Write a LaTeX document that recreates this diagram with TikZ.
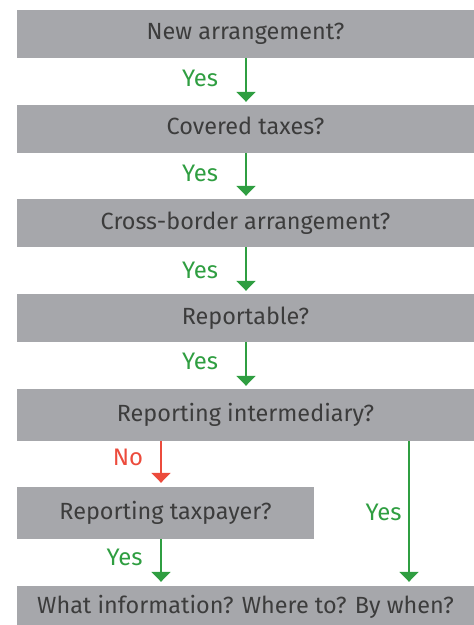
\documentclass[tikz,border=0pt]{standalone}
\usepackage{fontspec}
\setmainfont{Fira Sans}
\usetikzlibrary{arrows.meta}
\definecolor{boxgray}{HTML}{A6A7AB}
\definecolor{txtgray}{HTML}{3C3C3C}
\definecolor{okgreen}{HTML}{2F9E41}
\definecolor{nored}{HTML}{EC4B3C}
\tikzset{
  qbox/.style={fill=boxgray, text=txtgray, inner sep=0pt, minimum height=48bp,
    font=\fontsize{23.5}{26}\selectfont, text height=17bp, text depth=5bp},
  lbl/.style={inner sep=0pt, font=\fontsize{24}{26}\selectfont, text height=16.5bp, text depth=0bp},
  flow/.style={line width=2bp, -{Triangle[width=19bp,length=10bp]}, shorten >=3bp},
}
\begin{document}
\begin{tikzpicture}[x=1bp,y=-1bp]
\useasboundingbox (0,0) rectangle (474,625);
\node[qbox, minimum width=457bp] (b1) at (245.5,34) {New arrangement?};
\node[qbox, minimum width=457bp] (b2) at (245.5,129) {Covered taxes?};
\node[qbox, minimum width=457bp] (b3) at (245.5,223) {Cross-border arrangement?};
\node[qbox, minimum width=457bp] (b4) at (245.5,318) {Reportable?};
\node[qbox, minimum width=457bp, minimum height=52bp] (b5) at (245.5,415) {Reporting intermediary?};
\node[qbox, minimum width=297bp, minimum height=52bp] (b6) at (165.5,513) {Reporting taxpayer?};
\node[qbox, minimum width=457bp, minimum height=42bp] (b7) at (245.5,607) {What information? Where to? By when?};
\coordinate (cx) at (246,0);
\coordinate (lx) at (161,0);
\coordinate (rx) at (409,0);
\draw[flow, okgreen] (b1.south -| cx) -- (b2.north -| cx);
\draw[flow, okgreen] (b2.south -| cx) -- (b3.north -| cx);
\draw[flow, okgreen] (b3.south -| cx) -- (b4.north -| cx);
\draw[flow, okgreen] (b4.south -| cx) -- (b5.north -| cx);
\draw[flow, nored, shorten >=4bp] (b5.south -| lx) -- (b6.north -| lx);
\draw[flow, okgreen, shorten >=4bp] (b6.south -| lx) -- (b7.north -| lx);
\draw[flow, okgreen, shorten >=4bp] (b5.south -| rx) -- (b7.north -| rx);
\node[lbl, text=okgreen] (y1) at (200,78) {Yes};
\node[lbl, text=okgreen] (y2) at (200,173.5) {Yes};
\node[lbl, text=okgreen] (y3) at (200,270) {Yes};
\node[lbl, text=okgreen] (y4) at (200,361.5) {Yes};
\node[lbl, text=nored] (n5) at (128,457.5) {No};
\node[lbl, text=okgreen] (y6) at (124.5,557.5) {Yes};
\node[lbl, text=okgreen] (y7) at (383.5,512.5) {Yes};
\end{tikzpicture}
\end{document}
